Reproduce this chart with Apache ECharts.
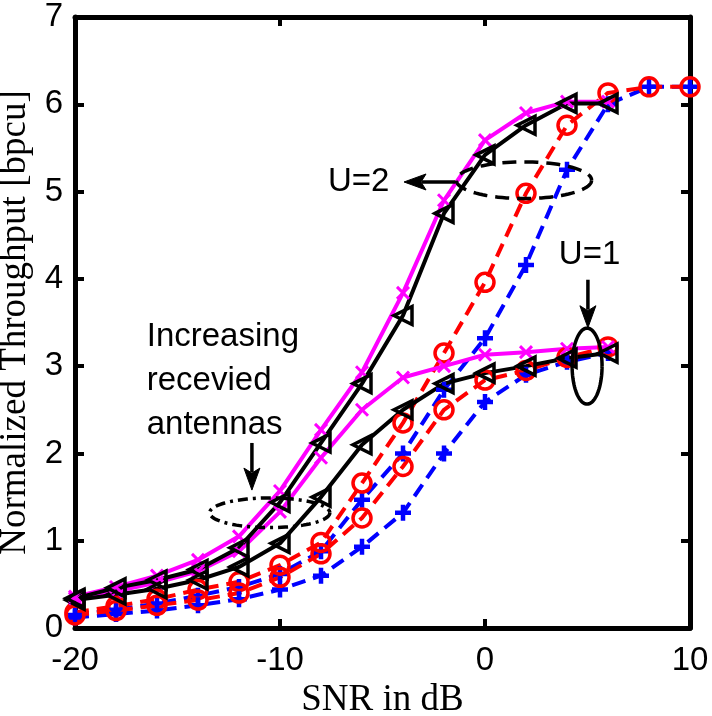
<!DOCTYPE html>
<html><head><meta charset="utf-8">
<script src="https://cdn.jsdelivr.net/npm/echarts@6/dist/echarts.min.js"></script>
<style>html,body{margin:0;padding:0;background:#fff}#c{width:712px;height:716px}</style>
</head><body><div id="c"></div>
<script>
// ---- data ----
const snr = [-20,-18,-16,-14,-12,-10,-8,-6,-4,-2,0,2,4,6,8,10];
const xTicks = [-20,-10,0,10];
const yTicks = [0,1,2,3,4,5,6,7];
// U=2
const magentaU2 = [0.36,0.47,0.60,0.78,1.05,1.57,2.27,2.93,3.84,4.90,5.59,5.90,6.03,6.03];
const blackU2   = [0.34,0.46,0.55,0.67,0.92,1.44,2.12,2.80,3.58,4.75,5.42,5.76,6.01,6.01];
const redU2     = [0.18,0.25,0.33,0.44,0.53,0.72,0.98,1.66,2.35,3.15,3.96,4.98,5.76,6.13,6.20,6.20];
const blueU2    = [0.15,0.21,0.28,0.37,0.47,0.62,0.88,1.47,2.00,2.73,3.32,4.16,5.25,6.00,6.20,6.20];
// U=1
const magentaU1 = [0.34,0.42,0.52,0.65,0.88,1.33,1.95,2.50,2.87,3.00,3.13,3.16,3.20,3.22];
const blackU1   = [0.32,0.38,0.45,0.55,0.70,0.97,1.50,2.10,2.50,2.80,2.92,3.00,3.09,3.15];
const redU1     = [0.15,0.20,0.26,0.32,0.40,0.58,0.85,1.26,1.85,2.50,2.84,2.95,3.10,3.22];
const blueU1    = [0.12,0.16,0.20,0.26,0.33,0.44,0.60,0.93,1.32,2.00,2.59,2.90,3.05,3.15];

const pts = vals => vals.map((v,i)=>[snr[i], v]);

const MAG='#ff00ff', BLK='#000000', RED='#ff0000', BLU='#0000ff';
const sty = {
  mag:{symbol:'path://M0,0L10,10M10,0L0,10', symbolSize:12, color:MAG, bw:3, dash:'solid', lw:4},
  blk:{symbol:'path://M0,5L10,0L10,10Z', symbolSize:18, color:BLK, bw:3.5, dash:'solid', lw:4},
  red:{symbol:'circle', symbolSize:18, color:RED, bw:3.5, dash:[14,8], lw:4},
  blu:{symbol:'path://M5,0L5,10M0,5L10,5', symbolSize:16, color:BLU, bw:4.5, dash:[14,8], lw:4}
};
function mk(name, vals, s){
  return {
    name, type:'line', data:pts(vals), xAxisIndex:0, yAxisIndex:0,
    symbol:s.symbol, symbolSize:s.symbolSize, showSymbol:true,
    lineStyle:{color:s.color, width:s.lw, type:s.dash},
    itemStyle:{color:'transparent', borderColor:s.color, borderWidth:s.bw},
    emphasis:{disabled:true}, silent:true
  };
}

const axisLabelFont = {fontSize:33, fontFamily:'Liberation Sans, Arial, sans-serif', color:'#000'};
const chart = echarts.init(document.getElementById('c'), null, {renderer:'canvas'});
chart.setOption({
  animation:false,
  backgroundColor:'#fff',
  grid:{left:75, right:22, top:17, bottom:88, containLabel:false, outerBoundsMode:'none'},
  xAxis:[
    {type:'value', min:-20, max:10, interval:10, position:'bottom',
     name:'SNR in dB', nameLocation:'middle', nameGap:53,
     nameTextStyle:{fontSize:37, fontFamily:'Liberation Serif, Times New Roman, serif', color:'#000'},
     axisLine:{show:true, onZero:false, lineStyle:{color:'#000', width:5}},
     axisTick:{show:true, inside:true, length:9, lineStyle:{color:'#000', width:4}},
     axisLabel:Object.assign({margin:16, formatter:v=>xTicks.includes(v)?String(v):''}, axisLabelFont),
     splitLine:{show:false}},
    {type:'value', min:-20, max:10, interval:10, position:'top',
     axisLine:{show:true, onZero:false, lineStyle:{color:'#000', width:5}},
     axisTick:{show:true, inside:true, length:9, lineStyle:{color:'#000', width:4}},
     axisLabel:{show:false}, splitLine:{show:false}}
  ],
  yAxis:[
    {type:'value', min:0, max:7, interval:1, position:'left',
     name:'Normalized Throughput [bpcu]', nameLocation:'middle', nameGap:37,
     nameTextStyle:{fontSize:37, fontFamily:'Liberation Serif, Times New Roman, serif', color:'#000'},
     axisLine:{show:true, onZero:false, lineStyle:{color:'#000', width:5}},
     axisTick:{show:true, inside:true, length:9, lineStyle:{color:'#000', width:4}},
     axisLabel:Object.assign({margin:12, formatter:v=>yTicks.includes(v)?String(v):''}, axisLabelFont),
     splitLine:{show:false}},
    {type:'value', min:0, max:7, interval:1, position:'right',
     axisLine:{show:true, onZero:false, lineStyle:{color:'#000', width:5}},
     axisTick:{show:true, inside:true, length:9, lineStyle:{color:'#000', width:4}},
     axisLabel:{show:false}, splitLine:{show:false}}
  ],
  series:[
    mk('blueU2', blueU2, sty.blu),
    mk('redU2', redU2, sty.red),
    mk('blueU1', blueU1, sty.blu),
    mk('redU1', redU1, sty.red),
    mk('magentaU1', magentaU1, sty.mag),
    mk('blackU1', blackU1, sty.blk),
    mk('magentaU2', magentaU2, sty.mag),
    mk('blackU2', blackU2, sty.blk)
  ]
});

// ---- annotations (data coordinates) ----
const P = (x,y) => chart.convertToPixel({gridIndex:0}, [x,y]);
function ellipse(cx, cy, rx, ry, dash){
  const c = P(cx, cy);
  const r = P(cx+rx, cy+ry);
  const ax = Math.abs(r[0]-c[0]), ay = Math.abs(r[1]-c[1]);
  const points = [];
  for (let i=0;i<=96;i++){ const t=i/96*2*Math.PI; points.push([c[0]+ax*Math.cos(t), c[1]+ay*Math.sin(t)]); }
  return {type:'polyline', shape:{points}, silent:true, z:10,
          style:{stroke:'#000', lineWidth:3.5, fill:null, lineDash:dash}};
}
function arrow(x1,y1,x2,y2){
  const a = P(x1,y1), b = P(x2,y2);
  const dx=b[0]-a[0], dy=b[1]-a[1], L=Math.hypot(dx,dy), ux=dx/L, uy=dy/L;
  const hl=22, hw=8;
  const base=[b[0]-ux*hl, b[1]-uy*hl];
  return [
    {type:'line', shape:{x1:a[0],y1:a[1],x2:base[0]+ux*4,y2:base[1]+uy*4}, silent:true, z:10, style:{stroke:'#000', lineWidth:3.5}},
    {type:'polygon', shape:{points:[[b[0],b[1]],[base[0]-uy*hw,base[1]+ux*hw],[base[0]+ux*5,base[1]+uy*5],[base[0]+uy*hw,base[1]-ux*hw]]},
     silent:true, z:10, style:{fill:'#000', stroke:'#000', lineWidth:1}}
  ];
}
function label(txt, x, y, align){
  const p = P(x,y);
  return {type:'text', x:p[0], y:p[1], silent:true, z:10,
          style:{text:txt, fontSize:33, fontFamily:'Liberation Sans, Arial, sans-serif', fill:'#000',
                 align:align||'left', verticalAlign:'middle'}};
}
const g = [];
g.push(ellipse(1.9, 5.13, 3.3, 0.21, [14,8]));
g.push(ellipse(-10.5, 1.32, 2.93, 0.17, [10,5,3,5]));
g.push(ellipse(4.98, 3.0, 0.73, 0.435, null));
g.push(...arrow(-1.46, 5.11, -3.95, 5.11));
g.push(...arrow(5.02, 3.99, 5.02, 3.44));
g.push(...arrow(-11.37, 2.12, -11.37, 1.58));
g.push(label('U=2', -7.66, 5.11));
g.push(label('U=1', 5.1, 4.27, 'center'));
g.push(label('Increasing', -16.5, 3.34));
g.push(label('recevied', -16.5, 2.83));
g.push(label('antennas', -16.5, 2.33));
chart.setOption({graphic:g});
</script>
</body></html>
